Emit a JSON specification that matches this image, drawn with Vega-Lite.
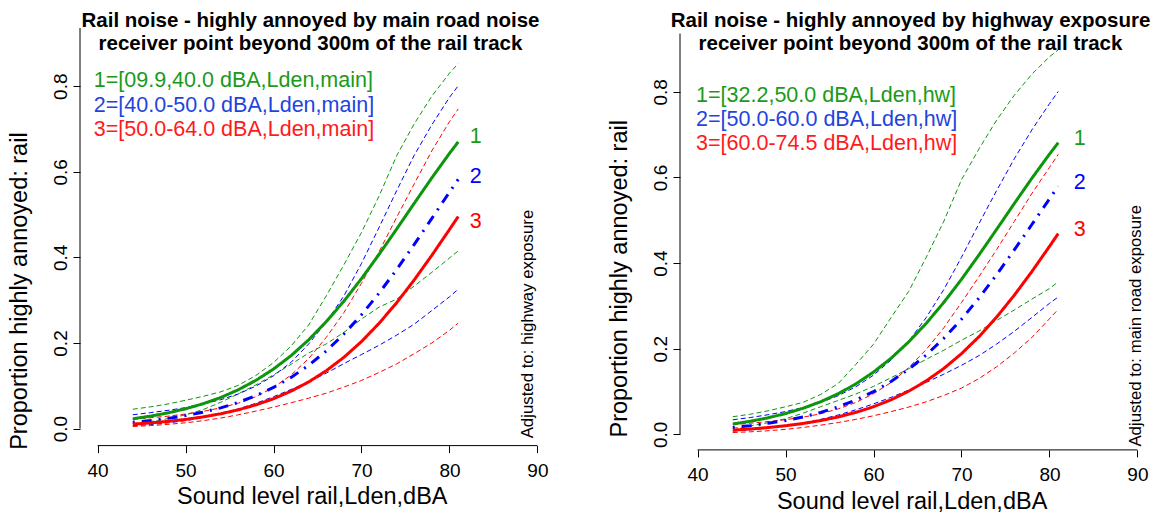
{
  "$schema": "https://vega.github.io/schema/vega-lite/v6.json",
  "padding": {"left": 7, "top": 10, "right": 0, "bottom": 0},
  "spacing": 52,
  "config": {
    "font": "Liberation Sans",
    "view": {"stroke": null},
    "axis": {"domain": false, "grid": false, "ticks": true, "tickColor": "black", "tickSize": 7, "tickWidth": 1, "labelColor": "black", "labelFontSize": 19, "titleColor": "black", "titleFontSize": 23.5, "titleFontWeight": "normal", "labelFlush": false, "labelOverlap": false},
    "title": {"fontSize": 20.5, "fontWeight": "bold", "color": "black", "lineHeight": 23.3, "frame": "group", "anchor": "middle"}
  },
  "datasets": {
    "left": [
      {"group":1,"level":44,"est":0.0230,"lo":0.0115,"hi":0.0452},{"group":1,"level":46,"est":0.0291,"lo":0.0165,"hi":0.0508},{"group":1,"level":48,"est":0.0367,"lo":0.0233,"hi":0.0575},{"group":1,"level":50,"est":0.0463,"lo":0.0321,"hi":0.0662},{"group":1,"level":52,"est":0.0581,"lo":0.0445,"hi":0.0754},{"group":1,"level":54,"est":0.0727,"lo":0.0615,"hi":0.0859},{"group":1,"level":56,"est":0.0908,"lo":0.0814,"hi":0.1012},{"group":1,"level":58,"est":0.1128,"lo":0.1022,"hi":0.1242},{"group":1,"level":60,"est":0.1392,"lo":0.1255,"hi":0.1542},{"group":1,"level":62,"est":0.1706,"lo":0.1504,"hi":0.1930},{"group":1,"level":64,"est":0.2075,"lo":0.1766,"hi":0.2423},{"group":1,"level":66,"est":0.2500,"lo":0.1980,"hi":0.3103},{"group":1,"level":68,"est":0.2977,"lo":0.2248,"hi":0.3827},{"group":1,"level":70,"est":0.3505,"lo":0.2560,"hi":0.4583},{"group":1,"level":72,"est":0.4071,"lo":0.2838,"hi":0.5434},{"group":1,"level":74,"est":0.4663,"lo":0.3026,"hi":0.6376},{"group":1,"level":76,"est":0.5265,"lo":0.3331,"hi":0.7122},{"group":1,"level":78,"est":0.5859,"lo":0.3652,"hi":0.7768},{"group":1,"level":80,"est":0.6429,"lo":0.3984,"hi":0.8303},{"group":1,"level":81,"est":0.6700,"lo":0.4154,"hi":0.8531},
      {"group":2,"level":44,"est":0.0148,"lo":0.0067,"hi":0.0323},{"group":2,"level":46,"est":0.0188,"lo":0.0094,"hi":0.0372},{"group":2,"level":48,"est":0.0239,"lo":0.0133,"hi":0.0427},{"group":2,"level":50,"est":0.0303,"lo":0.0186,"hi":0.0490},{"group":2,"level":52,"est":0.0384,"lo":0.0256,"hi":0.0573},{"group":2,"level":54,"est":0.0485,"lo":0.0347,"hi":0.0676},{"group":2,"level":56,"est":0.0612,"lo":0.0461,"hi":0.0809},{"group":2,"level":58,"est":0.0769,"lo":0.0592,"hi":0.0993},{"group":2,"level":60,"est":0.0962,"lo":0.0745,"hi":0.1235},{"group":2,"level":62,"est":0.1197,"lo":0.0916,"hi":0.1550},{"group":2,"level":64,"est":0.1480,"lo":0.1091,"hi":0.1978},{"group":2,"level":66,"est":0.1816,"lo":0.1295,"hi":0.2488},{"group":2,"level":68,"est":0.2209,"lo":0.1520,"hi":0.3100},{"group":2,"level":70,"est":0.2660,"lo":0.1730,"hi":0.3858},{"group":2,"level":72,"est":0.3165,"lo":0.1947,"hi":0.4700},{"group":2,"level":74,"est":0.3717,"lo":0.2184,"hi":0.5560},{"group":2,"level":76,"est":0.4305,"lo":0.2441,"hi":0.6388},{"group":2,"level":78,"est":0.4913,"lo":0.2759,"hi":0.7099},{"group":2,"level":80,"est":0.5523,"lo":0.3079,"hi":0.7738},{"group":2,"level":81,"est":0.5824,"lo":0.3258,"hi":0.8010},
      {"group":3,"level":44,"est":0.0105,"lo":0.0050,"hi":0.0219},{"group":3,"level":46,"est":0.0133,"lo":0.0070,"hi":0.0252},{"group":3,"level":48,"est":0.0170,"lo":0.0099,"hi":0.0290},{"group":3,"level":50,"est":0.0215,"lo":0.0136,"hi":0.0341},{"group":3,"level":52,"est":0.0274,"lo":0.0185,"hi":0.0403},{"group":3,"level":54,"est":0.0347,"lo":0.0247,"hi":0.0486},{"group":3,"level":56,"est":0.0439,"lo":0.0323,"hi":0.0595},{"group":3,"level":58,"est":0.0555,"lo":0.0409,"hi":0.0748},{"group":3,"level":60,"est":0.0698,"lo":0.0502,"hi":0.0962},{"group":3,"level":62,"est":0.0875,"lo":0.0604,"hi":0.1251},{"group":3,"level":64,"est":0.1091,"lo":0.0711,"hi":0.1638},{"group":3,"level":66,"est":0.1353,"lo":0.0828,"hi":0.2133},{"group":3,"level":68,"est":0.1666,"lo":0.0971,"hi":0.2709},{"group":3,"level":70,"est":0.2034,"lo":0.1125,"hi":0.3396},{"group":3,"level":72,"est":0.2460,"lo":0.1312,"hi":0.4134},{"group":3,"level":74,"est":0.2942,"lo":0.1512,"hi":0.4938},{"group":3,"level":76,"est":0.3475,"lo":0.1751,"hi":0.5720},{"group":3,"level":78,"est":0.4049,"lo":0.2002,"hi":0.6491},{"group":3,"level":80,"est":0.4651,"lo":0.2297,"hi":0.7171},{"group":3,"level":81,"est":0.4956,"lo":0.2465,"hi":0.7469}
    ],
    "right": [
      {"group":1,"level":44,"est":0.0241,"lo":0.0141,"hi":0.0411},{"group":1,"level":46,"est":0.0305,"lo":0.0197,"hi":0.0470},{"group":1,"level":48,"est":0.0385,"lo":0.0269,"hi":0.0548},{"group":1,"level":50,"est":0.0485,"lo":0.0364,"hi":0.0644},{"group":1,"level":52,"est":0.0609,"lo":0.0495,"hi":0.0747},{"group":1,"level":54,"est":0.0762,"lo":0.0645,"hi":0.0932},{"group":1,"level":56,"est":0.0950,"lo":0.0792,"hi":0.1188},{"group":1,"level":58,"est":0.1178,"lo":0.0943,"hi":0.1634},{"group":1,"level":60,"est":0.1453,"lo":0.1119,"hi":0.2105},{"group":1,"level":62,"est":0.1778,"lo":0.1323,"hi":0.2727},{"group":1,"level":64,"est":0.2158,"lo":0.1532,"hi":0.3340},{"group":1,"level":66,"est":0.2594,"lo":0.1752,"hi":0.4136},{"group":1,"level":68,"est":0.3083,"lo":0.1965,"hi":0.4980},{"group":1,"level":70,"est":0.3620,"lo":0.2198,"hi":0.5946},{"group":1,"level":72,"est":0.4193,"lo":0.2412,"hi":0.6669},{"group":1,"level":74,"est":0.4788,"lo":0.2660,"hi":0.7340},{"group":1,"level":76,"est":0.5389,"lo":0.2903,"hi":0.7918},{"group":1,"level":78,"est":0.5980,"lo":0.3158,"hi":0.8411},{"group":1,"level":80,"est":0.6543,"lo":0.3403,"hi":0.8816},{"group":1,"level":81,"est":0.6810,"lo":0.3563,"hi":0.8983},
      {"group":2,"level":44,"est":0.0160,"lo":0.0075,"hi":0.0339},{"group":2,"level":46,"est":0.0202,"lo":0.0104,"hi":0.0392},{"group":2,"level":48,"est":0.0256,"lo":0.0142,"hi":0.0457},{"group":2,"level":50,"est":0.0323,"lo":0.0195,"hi":0.0532},{"group":2,"level":52,"est":0.0407,"lo":0.0263,"hi":0.0624},{"group":2,"level":54,"est":0.0512,"lo":0.0349,"hi":0.0745},{"group":2,"level":56,"est":0.0642,"lo":0.0452,"hi":0.0903},{"group":2,"level":58,"est":0.0802,"lo":0.0573,"hi":0.1111},{"group":2,"level":60,"est":0.0998,"lo":0.0711,"hi":0.1382},{"group":2,"level":62,"est":0.1235,"lo":0.0863,"hi":0.1736},{"group":2,"level":64,"est":0.1519,"lo":0.1034,"hi":0.2175},{"group":2,"level":66,"est":0.1854,"lo":0.1213,"hi":0.2729},{"group":2,"level":68,"est":0.2244,"lo":0.1406,"hi":0.3385},{"group":2,"level":70,"est":0.2689,"lo":0.1611,"hi":0.4134},{"group":2,"level":72,"est":0.3187,"lo":0.1839,"hi":0.4925},{"group":2,"level":74,"est":0.3729,"lo":0.2108,"hi":0.5695},{"group":2,"level":76,"est":0.4305,"lo":0.2405,"hi":0.6434},{"group":2,"level":78,"est":0.4900,"lo":0.2729,"hi":0.7109},{"group":2,"level":80,"est":0.5498,"lo":0.3058,"hi":0.7721},{"group":2,"level":81,"est":0.5793,"lo":0.3208,"hi":0.8006},
      {"group":3,"level":44,"est":0.0098,"lo":0.0042,"hi":0.0225},{"group":3,"level":46,"est":0.0124,"lo":0.0059,"hi":0.0259},{"group":3,"level":48,"est":0.0158,"lo":0.0083,"hi":0.0298},{"group":3,"level":50,"est":0.0200,"lo":0.0116,"hi":0.0342},{"group":3,"level":52,"est":0.0254,"lo":0.0160,"hi":0.0400},{"group":3,"level":54,"est":0.0321,"lo":0.0214,"hi":0.0481},{"group":3,"level":56,"est":0.0406,"lo":0.0276,"hi":0.0594},{"group":3,"level":58,"est":0.0512,"lo":0.0349,"hi":0.0745},{"group":3,"level":60,"est":0.0644,"lo":0.0433,"hi":0.0948},{"group":3,"level":62,"est":0.0807,"lo":0.0530,"hi":0.1210},{"group":3,"level":64,"est":0.1007,"lo":0.0636,"hi":0.1558},{"group":3,"level":66,"est":0.1249,"lo":0.0760,"hi":0.1983},{"group":3,"level":68,"est":0.1539,"lo":0.0908,"hi":0.2490},{"group":3,"level":70,"est":0.1883,"lo":0.1080,"hi":0.3077},{"group":3,"level":72,"est":0.2283,"lo":0.1303,"hi":0.3686},{"group":3,"level":74,"est":0.2739,"lo":0.1578,"hi":0.4316},{"group":3,"level":76,"est":0.3248,"lo":0.1897,"hi":0.4970},{"group":3,"level":78,"est":0.3801,"lo":0.2263,"hi":0.5624},{"group":3,"level":80,"est":0.4388,"lo":0.2697,"hi":0.6234},{"group":3,"level":81,"est":0.4689,"lo":0.2922,"hi":0.6537}
    ]
  },
  "hconcat": [
    {
      "width": 475,
      "height": 417.6,
      "title": {"text": ["Rail noise - highly annoyed by main road noise", "receiver point beyond 300m of the rail track"], "offset": -27, "dx": -7},
      "layer": [
        {
          "data": {"name": "left"},
          "transform": [{"fold": ["lo", "hi"], "as": ["band", "p"]}],
          "mark": {"type": "line", "strokeWidth": 1, "strokeDash": [5, 3]},
          "encoding": {
            "x": {"field": "level", "type": "quantitative", "scale": {"domain": [38, 92], "nice": false, "zero": false},
                  "axis": {"values": [40, 50, 60, 70, 80, 90], "title": "Sound level rail,Lden,dBA", "labelPadding": 9, "titleX": 231.8, "titleY": 58, "titleBaseline": "alphabetic"}},
            "y": {"field": "p", "type": "quantitative", "scale": {"domain": [-0.0397, 0.936], "nice": false, "zero": false},
                  "axis": {"values": [0, 0.2, 0.4, 0.6, 0.8], "format": ".1f", "labelAngle": 270, "labelAlign": "center", "labelBaseline": "bottom", "labelPadding": 3, "title": "Proportion highly annoyed: rail", "titleAngle": 270, "titleX": -53.7, "titleY": 262.6, "titleBaseline": "alphabetic", "titleAlign": "center"}},
            "color": {"field": "group", "type": "nominal", "scale": {"domain": [1, 2, 3], "range": ["#0c960c", "#0000ff", "#ff0000"]}, "legend": null},
            "detail": {"field": "band"}
          }
        },
        {
          "data": {"name": "left"},
          "mark": {"type": "line", "strokeWidth": 3},
          "encoding": {
            "x": {"field": "level", "type": "quantitative"},
            "y": {"field": "est", "type": "quantitative"},
            "color": {"field": "group", "type": "nominal", "legend": null},
            "strokeDash": {"field": "group", "type": "nominal", "scale": {"domain": [1, 2, 3], "range": [[1, 0], [2, 7, 10, 7], [1, 0]]}, "legend": null}
          }
        },
        {
          "data": {"values": [{}]},
          "mark": {"type": "rule", "color": "black", "strokeWidth": 1},
          "encoding": {"x": {"datum": 40}, "x2": {"datum": 90}, "y": {"datum": -0.0397}}
        },
        {
          "data": {"values": [{}]},
          "mark": {"type": "rule", "color": "black", "strokeWidth": 1},
          "encoding": {"x": {"datum": 38}, "y": {"datum": 0}, "y2": {"datum": 0.936}}
        },
        {
          "data": {"values": [{"t": "1=[09.9,40.0 dBA,Lden,main]"}]},
          "mark": {"type": "text", "align": "left", "baseline": "middle", "fontSize": 21.5, "color": "#1a9a1a"},
          "encoding": {"x": {"datum": 39.57}, "y": {"datum": 0.8115}, "text": {"field": "t"}}
        },
        {
          "data": {"values": [{"t": "2=[40.0-50.0 dBA,Lden,main]"}]},
          "mark": {"type": "text", "align": "left", "baseline": "middle", "fontSize": 21.5, "color": "#1f44dd"},
          "encoding": {"x": {"datum": 39.57}, "y": {"datum": 0.7547}, "text": {"field": "t"}}
        },
        {
          "data": {"values": [{"t": "3=[50.0-64.0 dBA,Lden,main]"}]},
          "mark": {"type": "text", "align": "left", "baseline": "middle", "fontSize": 21.5, "color": "#ff1a1a"},
          "encoding": {"x": {"datum": 39.57}, "y": {"datum": 0.6986}, "text": {"field": "t"}}
        },
        {
          "data": {"values": [{"t": "1"}]},
          "mark": {"type": "text", "align": "center", "baseline": "middle", "fontSize": 21.5, "color": "#1a9a1a"},
          "encoding": {"x": {"datum": 83}, "y": {"datum": 0.681}, "text": {"field": "t"}}
        },
        {
          "data": {"values": [{"t": "2"}]},
          "mark": {"type": "text", "align": "center", "baseline": "middle", "fontSize": 21.5, "color": "#0000ff"},
          "encoding": {"x": {"datum": 83}, "y": {"datum": 0.588}, "text": {"field": "t"}}
        },
        {
          "data": {"values": [{"t": "3"}]},
          "mark": {"type": "text", "align": "center", "baseline": "middle", "fontSize": 21.5, "color": "#ff0000"},
          "encoding": {"x": {"datum": 83}, "y": {"datum": 0.483}, "text": {"field": "t"}}
        },
        {
          "data": {"values": [{"t": "Adjusted to: highway exposure"}]},
          "mark": {"type": "text", "align": "left", "baseline": "alphabetic", "angle": 270, "fontSize": 16.8, "color": "black"},
          "encoding": {"x": {"datum": 89.45}, "y": {"datum": -0.0227}, "text": {"field": "t"}}
        }
      ]
    },
    {
      "width": 475,
      "height": 421.9,
      "title": {"text": ["Rail noise - highly annoyed by highway exposure", "receiver point beyond 300m of the rail track"], "offset": -27, "dx": -7},
      "layer": [
        {
          "data": {"name": "right"},
          "transform": [{"fold": ["lo", "hi"], "as": ["band", "p"]}],
          "mark": {"type": "line", "strokeWidth": 1, "strokeDash": [5, 3]},
          "encoding": {
            "x": {"field": "level", "type": "quantitative", "scale": {"domain": [38, 92], "nice": false, "zero": false},
                  "axis": {"values": [40, 50, 60, 70, 80, 90], "title": "Sound level rail,Lden,dBA", "labelPadding": 9, "titleX": 231.6, "titleY": 58.4, "titleBaseline": "alphabetic"}},
            "y": {"field": "p", "type": "quantitative", "scale": {"domain": [-0.0364, 0.949], "nice": false, "zero": false},
                  "axis": {"values": [0, 0.2, 0.4, 0.6, 0.8], "format": ".1f", "labelAngle": 270, "labelAlign": "center", "labelBaseline": "bottom", "labelPadding": 3, "title": "Proportion highly annoyed: rail", "titleAngle": 270, "titleX": -53.7, "titleY": 250.3, "titleBaseline": "alphabetic", "titleAlign": "center"}},
            "color": {"field": "group", "type": "nominal", "scale": {"domain": [1, 2, 3], "range": ["#0c960c", "#0000ff", "#ff0000"]}, "legend": null},
            "detail": {"field": "band"}
          }
        },
        {
          "data": {"name": "right"},
          "mark": {"type": "line", "strokeWidth": 3},
          "encoding": {
            "x": {"field": "level", "type": "quantitative"},
            "y": {"field": "est", "type": "quantitative"},
            "color": {"field": "group", "type": "nominal", "legend": null},
            "strokeDash": {"field": "group", "type": "nominal", "scale": {"domain": [1, 2, 3], "range": [[1, 0], [2, 7, 10, 7], [1, 0]]}, "legend": null}
          }
        },
        {
          "data": {"values": [{}]},
          "mark": {"type": "rule", "color": "black", "strokeWidth": 1},
          "encoding": {"x": {"datum": 40}, "x2": {"datum": 90}, "y": {"datum": -0.0364}}
        },
        {
          "data": {"values": [{}]},
          "mark": {"type": "rule", "color": "black", "strokeWidth": 1},
          "encoding": {"x": {"datum": 38}, "y": {"datum": 0}, "y2": {"datum": 0.936}}
        },
        {
          "data": {"values": [{"t": "1=[32.2,50.0 dBA,Lden,hw]"}]},
          "mark": {"type": "text", "align": "left", "baseline": "middle", "fontSize": 21.5, "color": "#1a9a1a"},
          "encoding": {"x": {"datum": 39.83}, "y": {"datum": 0.7902}, "text": {"field": "t"}}
        },
        {
          "data": {"values": [{"t": "2=[50.0-60.0 dBA,Lden,hw]"}]},
          "mark": {"type": "text", "align": "left", "baseline": "middle", "fontSize": 21.5, "color": "#1f44dd"},
          "encoding": {"x": {"datum": 39.83}, "y": {"datum": 0.7334}, "text": {"field": "t"}}
        },
        {
          "data": {"values": [{"t": "3=[60.0-74.5 dBA,Lden,hw]"}]},
          "mark": {"type": "text", "align": "left", "baseline": "middle", "fontSize": 21.5, "color": "#ff1a1a"},
          "encoding": {"x": {"datum": 39.83}, "y": {"datum": 0.6774}, "text": {"field": "t"}}
        },
        {
          "data": {"values": [{"t": "1"}]},
          "mark": {"type": "text", "align": "center", "baseline": "middle", "fontSize": 21.5, "color": "#1a9a1a"},
          "encoding": {"x": {"datum": 83.44}, "y": {"datum": 0.6905}, "text": {"field": "t"}}
        },
        {
          "data": {"values": [{"t": "2"}]},
          "mark": {"type": "text", "align": "center", "baseline": "middle", "fontSize": 21.5, "color": "#0000ff"},
          "encoding": {"x": {"datum": 83.44}, "y": {"datum": 0.5868}, "text": {"field": "t"}}
        },
        {
          "data": {"values": [{"t": "3"}]},
          "mark": {"type": "text", "align": "center", "baseline": "middle", "fontSize": 21.5, "color": "#ff0000"},
          "encoding": {"x": {"datum": 83.44}, "y": {"datum": 0.4763}, "text": {"field": "t"}}
        },
        {
          "data": {"values": [{"t": "Adjusted to: main road exposure"}]},
          "mark": {"type": "text", "align": "left", "baseline": "alphabetic", "angle": 270, "fontSize": 16.8, "color": "black"},
          "encoding": {"x": {"datum": 90.36}, "y": {"datum": -0.0287}, "text": {"field": "t"}}
        }
      ]
    }
  ]
}
